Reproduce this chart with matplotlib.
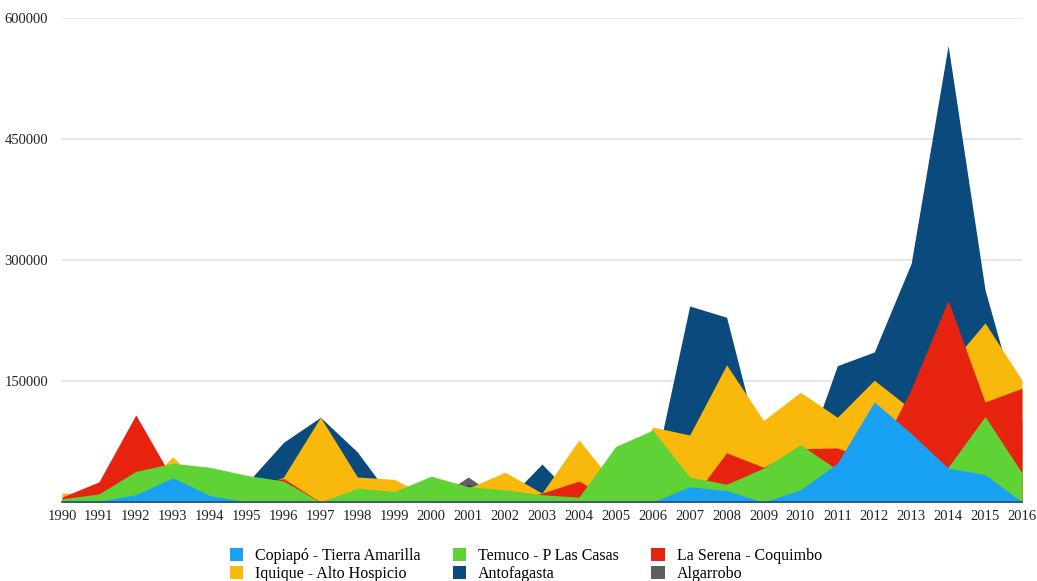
import matplotlib.pyplot as plt
from matplotlib.patches import Patch

years = list(range(1990, 2017))

copiapo = [2000, 1000, 9000, 30000, 8000, 0, 0, 0, 0, 0, 0, 0, 0, 0, 0, 0, 0,
           19000, 14000, 0, 15000, 48000, 124000, 85000, 42000, 34000, 0]
temuco = [4000, 10000, 38000, 48000, 43000, 33000, 26000, 0, 17000, 13000, 32000, 19000, 15000, 9000, 6000, 69000, 89000,
          31000, 22000, 42000, 71000, 40000, 30000, 35000, 43000, 106000, 36000]
la_serena = [6000, 25000, 108000, 28000, 20000, 20000, 29000, 0, 0, 0, 0, 0, 0, 11000, 26000, 0, 0,
             0, 61000, 43000, 66000, 67000, 50000, 140000, 250000, 124000, 141000]
iquique = [11000, 10000, 10000, 56000, 11000, 10000, 31000, 105000, 31000, 28000, 5000, 17000, 37000, 11000, 77000, 20000, 93000,
           83000, 170000, 101000, 136000, 105000, 151000, 115000, 168000, 222000, 151000]
antofagasta = [0, 0, 0, 0, 0, 23000, 74000, 105000, 62000, 0, 0, 22000, 0, 47000, 0, 0, 30000,
               243000, 229000, 50000, 40000, 169000, 186000, 296000, 566000, 263000, 100000]
algarrobo = [0, 0, 0, 0, 0, 0, 0, 0, 0, 0, 0, 31000, 0, 0, 0, 0, 0,
             0, 0, 0, 0, 0, 0, 0, 0, 0, 0]

# back to front
layers = [
    ("Algarrobo", algarrobo, "#5f5f5f"),
    ("Antofagasta", antofagasta, "#0b4a7c"),
    ("Iquique - Alto Hospicio", iquique, "#f8b80c"),
    ("La Serena - Coquimbo", la_serena, "#e6230f"),
    ("Temuco - P Las Casas", temuco, "#5fd236"),
    ("Copiapó - Tierra Amarilla", copiapo, "#19a2f4"),
]
legend_order = ["Copiapó - Tierra Amarilla", "Iquique - Alto Hospicio", "Temuco - P Las Casas",
                "Antofagasta", "La Serena - Coquimbo", "Algarrobo"]

plt.rcParams["font.family"] = ["Liberation Serif", "DejaVu Serif"]

fig = plt.figure(figsize=(10.37, 5.81), dpi=100)
ax = fig.add_axes([0.0598, 0.136, 0.9257, 0.833])

colors = {}
for name, vals, col in layers:
    ax.fill_between(years, 0, vals, color=col, linewidth=0, zorder=2)
    colors[name] = col

ax.set_xlim(1990, 2016)
ax.set_ylim(0, 600000)
ax.set_xticks(years)
ax.set_xticklabels([str(y) for y in years])
ax.set_yticks([150000, 300000, 450000, 600000])
ax.set_yticklabels(["150000", "300000", "450000", "600000"])
ax.tick_params(axis="both", length=0, labelsize=10.5, colors="#222222")
ax.tick_params(axis="x", pad=6)
ax.tick_params(axis="y", pad=10)
ax.grid(axis="y", color="#e3e3e3", linewidth=1.2, zorder=0)
for side in ["top", "right", "left"]:
    ax.spines[side].set_visible(False)
ax.spines["bottom"].set_color("#2f4f6f")
ax.spines["bottom"].set_linewidth(1.2)
ax.spines["bottom"].set_zorder(3)

handles = [Patch(facecolor=colors[n], edgecolor="none", label=n) for n in legend_order]
fig.legend(handles=handles, loc="lower center", bbox_to_anchor=(0.507, -0.027), ncol=3,
           frameon=False, fontsize=11.5, handlelength=0.85, handleheight=0.85,
           handletextpad=0.75, columnspacing=2.0, labelspacing=0.12)

fig.savefig("out.png", dpi=100)
